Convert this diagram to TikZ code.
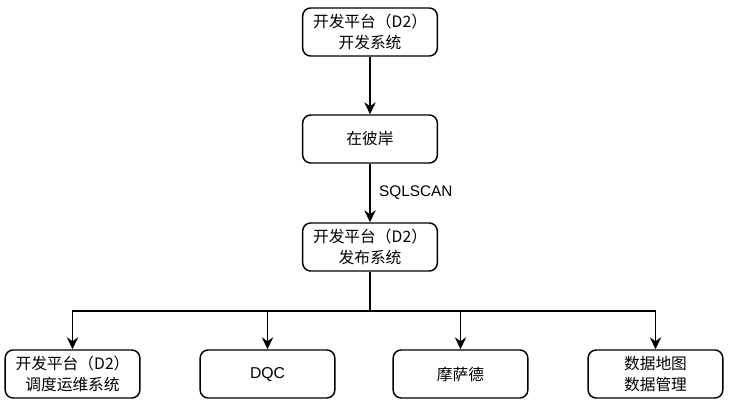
\documentclass[tikz,border=0pt]{standalone}
\usepackage{fontspec}
\setmainfont{Liberation Sans}
\newfontfamily\cjk{Noto Sans CJK SC}
\usetikzlibrary{arrows.meta,positioning}
\begin{document}
\begin{tikzpicture}[x=0.75pt,y=-0.75pt,
  box/.style={draw,line width=1.1pt,rounded corners=6pt,minimum width=101pt,minimum height=36pt,inner sep=0pt,align=center,font=\cjk\fontsize{11.8}{15.5}\selectfont},
  conn/.style={line width=1.1pt,-{Stealth[length=9pt,width=8.5pt,inset=3pt]}}]
\useasboundingbox (0,0) rectangle (730,407);
\node[box] (a) at (370,32) {开发平台（D2）\\开发系统};
\node[box] (b) at (370,139) {在彼岸};
\node[box] (c) at (370,247) {开发平台（D2）\\发布系统};
\node[box] (d1) at (72.5,374) {开发平台（D2）\\调度运维系统};
\node[box] (d2) at (267.5,374) {\rmfamily DQC};
\node[box] (d3) at (460.5,374) {摩萨德};
\node[box] (d4) at (655.5,374) {数据地图\\数据管理};
\coordinate (j) at (370,311);
\draw[conn] (a) -- (b);
\draw[conn] (b) -- node[right,xshift=3pt,font=\fontsize{11.5}{13}\selectfont]{SQLSCAN} (c);
\draw[line width=1.1pt] (c.south) -- (j);
\foreach \n in {d1,d2,d3,d4}{
  \draw[conn] (j) -| (\n.north);
}
\end{tikzpicture}
\end{document}
